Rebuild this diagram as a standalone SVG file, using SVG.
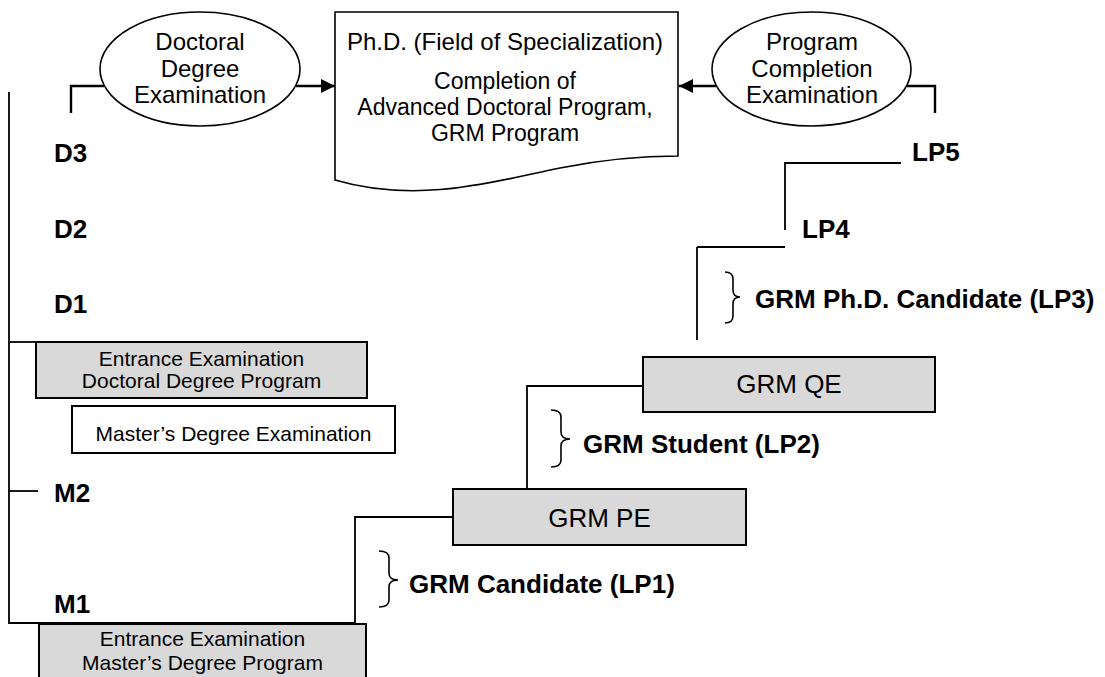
<svg xmlns="http://www.w3.org/2000/svg" width="1105" height="677" viewBox="0 0 1105 677">
<style>
text{font-family:"Liberation Sans",Arial,sans-serif;fill:#000}
.t24{font-size:24px;text-anchor:middle}
.t23{font-size:23px;text-anchor:middle}
.t21{font-size:21px;text-anchor:middle}
.t26{font-size:26px;text-anchor:middle}
.b{font-size:26px;font-weight:bold}
.box{fill:#d9d9d9;stroke:#000;stroke-width:2}
.wbox{fill:#fff;stroke:#000;stroke-width:2}
.ln{fill:none;stroke:#000;stroke-width:1.8}
.thk{fill:none;stroke:#000;stroke-width:2.4}
.br{fill:none;stroke:#000;stroke-width:1.6}
</style>
<defs>
<marker id="arr" viewBox="0 0 10 10" refX="10" refY="5" markerWidth="16" markerHeight="14" markerUnits="userSpaceOnUse" orient="auto">
<path d="M0,0 L10,5 L0,10 z" fill="#000"/>
</marker>
</defs>
<rect width="1105" height="677" fill="#fff"/>
<g id="connectors">
<polyline class="thk" points="71,113 71,86 104,86"/>
<line class="thk" x1="296" y1="86" x2="335" y2="86" marker-end="url(#arr)"/>
<polyline class="thk" points="935,113 935,86 907,86"/>
<line class="thk" x1="716" y1="86" x2="679" y2="86" marker-end="url(#arr)"/>
<line class="ln" x1="9" y1="92" x2="9" y2="624"/>
<line class="ln" x1="9" y1="342" x2="36" y2="342"/>
<line class="ln" x1="9" y1="491" x2="38" y2="491"/>
<line class="ln" x1="9" y1="623" x2="355" y2="623"/>
<polyline class="ln" points="355,623 355,517 453,517"/>
<polyline class="ln" points="527,489 527,386 643,386"/>
<line class="ln" x1="697" y1="340" x2="697" y2="247"/>
<line class="ln" x1="697" y1="247" x2="785" y2="247"/>
<polyline class="ln" points="785,230 785,163 901,163"/>
</g>
<g id="doctoral-exam">
<ellipse cx="200" cy="69" rx="100" ry="57" fill="#fff" stroke="#000" stroke-width="1.6"/>
<text class="t24" x="200" y="50">Doctoral</text>
<text class="t24" x="200" y="77">Degree</text>
<text class="t24" x="200" y="103">Examination</text>
</g>
<g id="phd">
<path d="M335,12 L678,12 L678,156 C650,156 610,158 560,168 C500,180 420,205 335,180 Z" fill="#fff" stroke="#000" stroke-width="1.6"/>
<text class="t24" x="505" y="50">Ph.D. (Field of Specialization)</text>
<text class="t23" x="505" y="89">Completion of</text>
<text class="t23" x="505" y="115">Advanced Doctoral Program,</text>
<text class="t23" x="505" y="141">GRM Program</text>
</g>
<g id="program-completion-exam">
<ellipse cx="811.5" cy="69" rx="99.5" ry="57" fill="#fff" stroke="#000" stroke-width="1.6"/>
<text class="t24" x="812" y="50">Program</text>
<text class="t24" x="812" y="77">Completion</text>
<text class="t24" x="812" y="103">Examination</text>
</g>
<g id="levels">
<text class="b" x="54" y="162">D3</text>
<text class="b" x="54" y="238">D2</text>
<text class="b" x="54" y="313">D1</text>
<text class="b" x="54" y="502">M2</text>
<text class="b" x="54" y="613">M1</text>
<text class="b" x="912" y="161">LP5</text>
<text class="b" x="802" y="238">LP4</text>
</g>
<g id="entrance-doctoral">
<rect class="box" x="36" y="342" width="331" height="56"/>
<text class="t21" x="201.5" y="366">Entrance Examination</text>
<text class="t21" x="201.5" y="388">Doctoral Degree Program</text>
</g>
<g id="masters-exam">
<rect class="wbox" x="72" y="406" width="323" height="47"/>
<text class="t21" x="233.5" y="441">Master’s Degree Examination</text>
</g>
<g id="entrance-masters">
<rect class="box" x="39" y="624" width="327" height="60"/>
<text class="t21" x="202.5" y="646">Entrance Examination</text>
<text class="t21" x="202.5" y="670">Master’s Degree Program</text>
</g>
<g id="grm-pe">
<rect class="box" x="453" y="489" width="293" height="56"/>
<text class="t26" x="599.5" y="527">GRM PE</text>
</g>
<g id="grm-qe">
<rect class="box" x="643" y="357" width="292" height="55"/>
<text class="t26" x="789" y="393">GRM QE</text>
</g>
<g id="lp1">
<path class="br" d="M379,551 Q389,551 389,558 L389,573 Q389,580 398,580 Q389,580 389,587 L389,600 Q389,607 379,607"/>
<text class="b" x="409" y="593">GRM Candidate (LP1)</text>
</g>
<g id="lp2">
<path class="br" d="M551,410 Q561,410 561,417 L561,432 Q561,439 570,439 Q561,439 561,446 L561,460 Q561,467 551,467"/>
<text class="b" x="583" y="453">GRM Student (LP2)</text>
</g>
<g id="lp3">
<path class="br" d="M725,272 Q733,272 733,279 L733,290 Q733,297 740,297 Q733,297 733,304 L733,316 Q733,323 725,323"/>
<text class="b" x="755" y="308">GRM Ph.D. Candidate (LP3)</text>
</g>
</svg>
